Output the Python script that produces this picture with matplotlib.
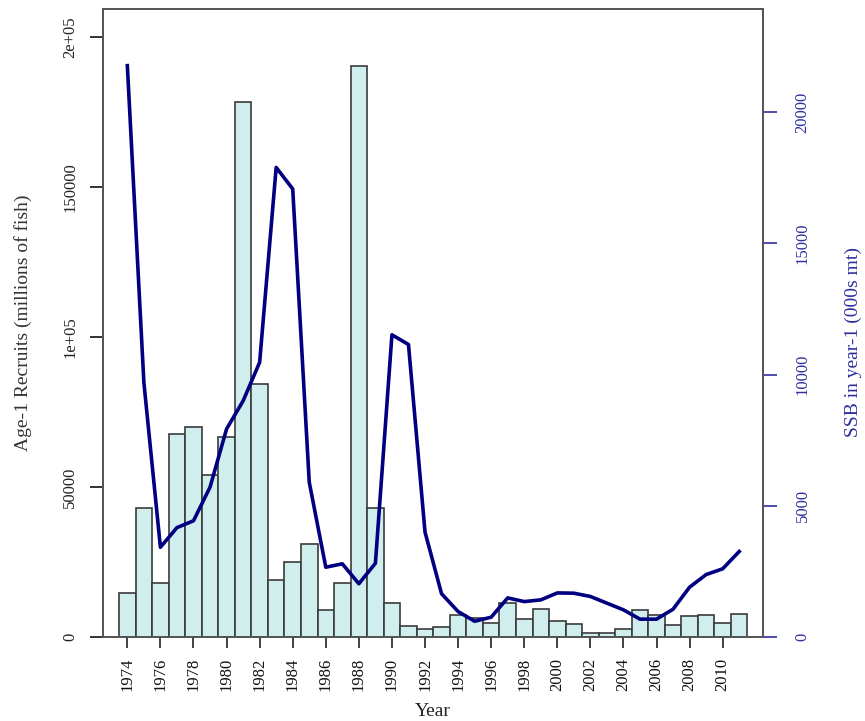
import matplotlib
matplotlib.use("Agg")
import matplotlib.pyplot as plt

years = list(range(1974, 2012))
recruits = [14600, 43000, 18000, 67800, 70100, 54000, 66500, 178300, 84300, 19000,
            24900, 31100, 9000, 18000, 190400, 43000, 11400, 3600, 2800, 3200,
            7400, 6400, 4600, 11300, 6000, 9400, 5400, 4300, 1400, 1400,
            2800, 9000, 7300, 3900, 7000, 7400, 4600, 7700]
ssb = [21780, 9700, 3420, 4170, 4430, 5710, 7930, 9000, 10470, 17900,
       17080, 5900, 2660, 2790, 2030, 2810, 11520, 11150, 4000, 1650,
       970, 600, 755, 1490, 1350, 1415, 1680, 1670, 1545, 1290,
       1035, 680, 680, 1060, 1900, 2380, 2600, 3260]
left_ticks = [0, 50000, 100000, 150000, 200000]
left_labels = ["0", "50000", "1e+05", "150000", "2e+05"]
right_ticks = [0, 5000, 10000, 15000, 20000]
right_labels = ["0", "5000", "10000", "15000", "20000"]
xtick_years = list(range(1974, 2011, 2))

plt.rcParams['font.family'] = ['Liberation Serif', 'DejaVu Serif']

W, H = 865, 721
fig = plt.figure(figsize=(W / 100, H / 100), dpi=100)
l, r, t, b = 102.7, 762.7, 8.5, 637.0
ax = fig.add_axes([l / W, 1 - b / H, (r - l) / W, (b - t) / H])

blue = '#2E2E9E'
ax.bar(years, recruits, width=1.0, color='#D1EEEE', edgecolor='#3a3a3a', linewidth=1.2, zorder=2)
ax.set_xlim(1972.51, 2012.42)
ax.set_ylim(0, 1.1 * max(recruits))
ax.set_xticks(xtick_years)
ax.set_xticklabels([str(y) for y in xtick_years], rotation=90, fontsize=12, color='#111111')
ax.set_yticks(left_ticks)
ax.set_yticklabels(left_labels, rotation=90, va='center', fontsize=12, color='#222222')
ax.tick_params(axis='x', length=8, width=1.2, color='#222222', pad=7)
ax.tick_params(axis='y', length=9.5, width=1.2, color='#111111', pad=8)
for s in ax.spines.values():
    s.set_color('#555555')
    s.set_linewidth(1.3)

ax2 = ax.twinx()
ax2.plot(years, ssb, color='#000080', linewidth=2.6, zorder=3)
ax2.set_ylim(0, 1.1 * max(ssb))
ax2.set_yticks(right_ticks)
ax2.set_yticklabels(right_labels, rotation=90, va='center', fontsize=12, color=blue)
ax2.tick_params(axis='y', length=10, width=1.2, color=blue, pad=13)
for s in ax2.spines.values():
    s.set_color('#555555')
    s.set_linewidth(1.3)

fig.text(433 / W, 1 - 711 / H, "Year", ha='center', va='center', fontsize=14, color='#222222')
fig.text(23 / W, 1 - 323 / H, "Age-1 Recruits (millions of fish)", rotation=90,
         ha='center', va='center', fontsize=14, color='#333333')
fig.text(853 / W, 1 - 342 / H, "SSB in year-1 (000s mt)", rotation=90,
         ha='center', va='center', fontsize=14, color=blue)

fig.savefig("out.png", dpi=100)
